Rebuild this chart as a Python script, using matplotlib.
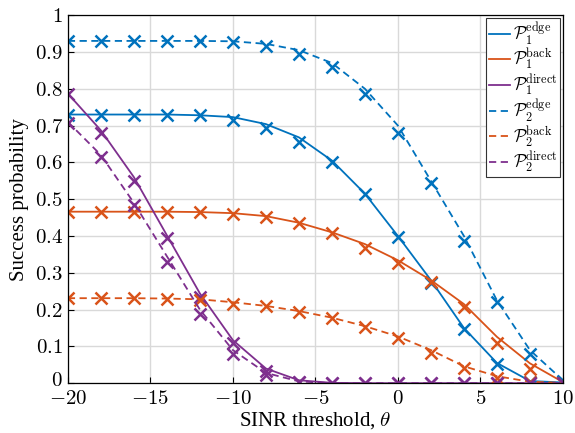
import matplotlib
matplotlib.use("Agg")
import matplotlib.pyplot as plt
import matplotlib.transforms as mtransforms
import numpy as np

plt.rcParams['font.family'] = ['Liberation Serif', 'DejaVu Serif']
plt.rcParams['mathtext.fontset'] = 'cm'

# SINR threshold (dB)
theta = [-20, -18, -16, -14, -12, -10, -8, -6, -4, -2, 0, 2, 4, 6, 8, 10]

# analytical curves
edge1_line = [0.73, 0.73, 0.73, 0.73, 0.728, 0.723, 0.704, 0.668, 0.605, 0.515, 0.40, 0.28, 0.15, 0.055, 0.006, 0.002]
back1_line = [0.466, 0.466, 0.466, 0.466, 0.465, 0.462, 0.454, 0.436, 0.41, 0.378, 0.334, 0.28, 0.215, 0.126, 0.054, 0.003]
direct1_line = [0.787, 0.687, 0.56, 0.402, 0.244, 0.117, 0.04, 0.008, 0.001, 0.0, 0.0, 0.0, 0.0, 0.0, 0.0, 0.0]
edge2_line = [0.93, 0.93, 0.93, 0.93, 0.93, 0.929, 0.922, 0.905, 0.87, 0.80, 0.70, 0.55, 0.40, 0.225, 0.09, 0.008]
back2_line = [0.231, 0.231, 0.231, 0.23, 0.228, 0.22, 0.21, 0.196, 0.178, 0.155, 0.127, 0.09, 0.046, 0.019, 0.004, 0.001]
direct2_line = [0.71, 0.62, 0.49, 0.345, 0.20, 0.09, 0.028, 0.005, 0.0, 0.0, 0.0, 0.0, 0.0, 0.0, 0.0, 0.0]

# simulation points
edge1_sim = [0.73, 0.73, 0.73, 0.73, 0.728, 0.715, 0.693, 0.655, 0.60, 0.513, 0.397, 0.272, 0.147, 0.052, 0.003, 0.002]
back1_sim = [0.466, 0.466, 0.466, 0.466, 0.465, 0.459, 0.452, 0.434, 0.407, 0.368, 0.326, 0.275, 0.207, 0.108, 0.038, 0.003]
direct1_sim = [0.787, 0.68, 0.549, 0.395, 0.235, 0.11, 0.034, 0.004, 0.0, 0.0, 0.0, 0.0, 0.0, 0.0, 0.0, 0.0]
edge2_sim = [0.93, 0.93, 0.93, 0.93, 0.93, 0.927, 0.917, 0.895, 0.858, 0.785, 0.679, 0.543, 0.386, 0.22, 0.08, 0.005]
back2_sim = [0.231, 0.231, 0.231, 0.23, 0.226, 0.216, 0.209, 0.194, 0.176, 0.153, 0.123, 0.082, 0.04, 0.013, 0.002, 0.0]
direct2_sim = [0.706, 0.615, 0.484, 0.33, 0.187, 0.079, 0.022, 0.003, 0.0, 0.0, 0.0, 0.0, 0.0, 0.0, 0.0, 0.0]

blue = '#0072BD'
orange = '#D95319'
purple = '#7E2F8E'

fig = plt.figure(figsize=(5.75, 4.33), dpi=100)
ax = fig.add_axes([0.118, 0.115, 0.861, 0.85])

series = [
    (edge1_line, edge1_sim, blue, '-', r'$\mathcal{P}_1^{\mathrm{edge}}$'),
    (back1_line, back1_sim, orange, '-', r'$\mathcal{P}_1^{\mathrm{back}}$'),
    (direct1_line, direct1_sim, purple, '-', r'$\mathcal{P}_1^{\mathrm{direct}}$'),
    (edge2_line, edge2_sim, blue, '--', r'$\mathcal{P}_2^{\mathrm{edge}}$'),
    (back2_line, back2_sim, orange, '--', r'$\mathcal{P}_2^{\mathrm{back}}$'),
    (direct2_line, direct2_sim, purple, '--', r'$\mathcal{P}_2^{\mathrm{direct}}$'),
]

handles = []
for line, sim, col, ls, lab in series:
    h, = ax.plot(theta, line, color=col, linestyle=ls, linewidth=1.3, label=lab)
    if ls == '--':
        h.set_dashes((4, 2.5))
    ax.plot(theta, sim, linestyle='none', marker='x', color=col,
            markersize=9, markeredgewidth=1.8)
    handles.append(h)

ax.set_xlim(-20, 10)
ax.set_ylim(0, 1)
xt = np.arange(-20, 11, 5)
yt = np.round(np.arange(0, 1.01, 0.1), 1)
ax.set_xticks(xt)
ax.set_yticks(yt)
ax.set_xticklabels([r'$%d$' % v for v in xt], fontsize=15)
ax.set_yticklabels(['$0$'] + [r'$%.1f$' % v for v in yt[1:-1]] + ['$1$'], fontsize=15)
ax.tick_params(direction='in', length=4, width=0.8)
ax.tick_params(axis='x', pad=5)
# nudge the bottom "0" up a touch so it clears the "-20"
lab0 = ax.get_yticklabels()[0]
lab0.set_transform(lab0.get_transform() + mtransforms.ScaledTranslation(0, 3 / 72, fig.dpi_scale_trans))
ax.grid(True, color='#d9d9d9', linewidth=1.0)
ax.set_axisbelow(True)
for s in ax.spines.values():
    s.set_linewidth(0.9)

ax.set_xlabel(r'SINR threshold, $\theta$', fontsize=15, labelpad=1)
ax.set_ylabel('Success probability', fontsize=15, labelpad=4)

leg = ax.legend(handles=handles, loc='upper right', fontsize=12.5,
                handlelength=1.2, handletextpad=0.2, labelspacing=0.0,
                borderpad=0.15, borderaxespad=0.15, fancybox=False, framealpha=1)
leg.get_frame().set_edgecolor('#333333')
leg.get_frame().set_linewidth(0.8)

fig.savefig('out.png', dpi=100)
